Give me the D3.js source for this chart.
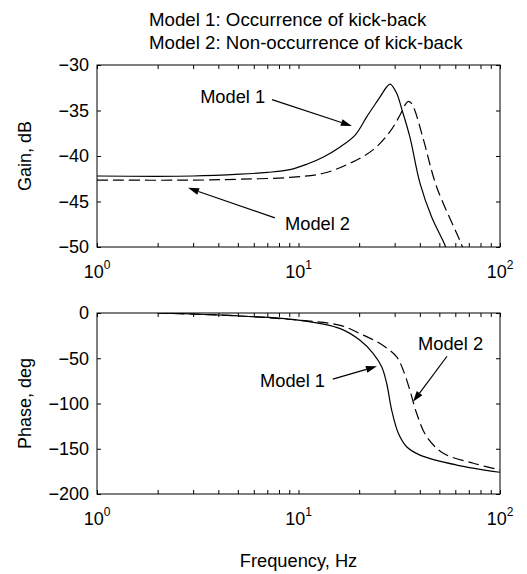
<!DOCTYPE html>
<html>
<head>
<meta charset="utf-8">
<script src="https://cdn.jsdelivr.net/npm/d3@7"></script>
<style>
  body { margin: 0; background: #fff; }
  svg { font-family: "Liberation Sans", Arial, sans-serif; }
  .axis path { display: none; }
  .axis line { stroke: #000; stroke-width: 1; }
  .axis text { font-size: 18px; fill: #000; }
</style>
</head>
<body>
<svg width="527" height="574"></svg>
<script>
// Gain data (Hz, dB)
let gain1Freq = [1, 3, 5.13, 7, 9.07, 11, 13.3, 16.1, 19.1, 21.8, 25.4, 27.2, 28.5, 30.7, 32.5, 35.7, 40.1, 45.8, 53.3, 58]
let gain1Val  = [-42.2, -42.2, -42.0, -41.8, -41.5, -40.9, -40.1, -39.0, -37.7, -35.7, -33.5, -32.5, -32.1, -33.1, -34.8, -37.9, -43.0, -46.7, -49.8, -52]
let gain2Freq = [1, 3, 5.13, 9.07, 13.3, 18.0, 23.5, 28.5, 31.9, 34.0, 35.1, 36.3, 37.8, 41.7, 48.5, 64.6, 70]
let gain2Val  = [-42.65, -42.65, -42.55, -42.35, -41.9, -40.8, -39.3, -37.3, -35.5, -34.3, -34.0, -34.2, -35.0, -38.2, -43.4, -49.8, -52]

// Phase data (Hz, deg)
let phase1Freq = [2, 5.13, 10.2, 16.1, 20.2, 23.5, 25.9, 27.4, 29.0, 31.3, 34.4, 40.1, 61, 100]
let phase1Val  = [0, -3.3, -8.1, -17.2, -30.1, -44.8, -59.6, -77.9, -107.3, -133, -147.8, -157, -168, -176]
let phase2Freq = [2, 5.13, 10.2, 16.1, 20.2, 25.4, 30.7, 33.1, 35.7, 38.6, 43.3, 52.3, 73.8, 100]
let phase2Val  = [0, -3.3, -8.1, -13.6, -22.8, -33.8, -48.5, -63.2, -85.3, -111, -136.8, -155, -166, -173.5]

// Ticks
let xMajor = [1, 10, 100]
let xMinor = [2, 3, 4, 5, 6, 7, 8, 9, 20, 30, 40, 50, 60, 70, 80, 90]
let gainTicks = [-50, -45, -40, -35, -30]
let phaseTicks = [-200, -150, -100, -50, 0]

// Title and labels
let titleLines = ["Model 1: Occurrence of kick-back", "Model 2: Non-occurrence of kick-back"]

// Annotations in data units: text position, arrow tail, arrow tip
let gainNotes = [
  {label: "Model 1", tx: 3.25, ty: -34.2, ax: 7.39, ay: -33.8, bx: 18.4, by: -36.7},
  {label: "Model 2", tx: 8.57, ty: -48.1, ax: 7.64, ay: -46.8, bx: 2.83, by: -43.5}
]
let phaseNotes = [
  {label: "Model 1", tx: 6.44, ty: -81.6, ax: 14.8, ay: -73.1, bx: 24.5, by: -58.8},
  {label: "Model 2", tx: 39.2, ty: -41.1, ax: 54.6, ay: -47.8, bx: 37, by: -98.2}
]

let svg = d3.select("svg")
let left = 97, right = 500

let xScale = d3.scaleLog().domain([1, 100]).range([left, right])

function zip(fs, vs) { return fs.map((f, i) => ({f: f, v: vs[i]})) }

function drawPanel(top, bottom, yDomain, yTicks, yLabel, series, notes, id) {
  let yScale = d3.scaleLinear().domain(yDomain).range([bottom, top])

  svg.append("clipPath").attr("id", id)
    .append("rect")
      .attr("x", left).attr("y", top)
      .attr("width", right - left).attr("height", bottom - top)

  let line = d3.line()
    .x(d => xScale(d.f))
    .y(d => yScale(d.v))
    .curve(d3.curveCatmullRom.alpha(0.5))

  series.forEach(s => {
    svg.append("path")
      .datum(s.data)
      .attr("clip-path", `url(#${id})`)
      .attr("fill", "none")
      .attr("stroke", "#000")
      .attr("stroke-width", 1.2)
      .attr("stroke-dasharray", s.dash)
      .attr("d", line)
  })

  // frame
  svg.append("rect")
    .attr("x", left).attr("y", top)
    .attr("width", right - left).attr("height", bottom - top)
    .attr("fill", "none").attr("stroke", "#000").attr("stroke-width", 1)

  // y axes
  svg.append("g").attr("class", "axis")
    .attr("transform", `translate(${left},0)`)
    .call(d3.axisLeft(yScale).tickValues(yTicks).tickSize(-4).tickPadding(8))
  svg.append("g").attr("class", "axis")
    .attr("transform", `translate(${right},0)`)
    .call(d3.axisRight(yScale).tickValues(yTicks).tickSize(-4).tickFormat(""))

  // x axes, major and minor, bottom and top
  svg.append("g").attr("class", "axis")
    .attr("transform", `translate(0,${bottom})`)
    .call(d3.axisBottom(xScale).tickValues(xMajor.concat(xMinor)).tickSize(-4).tickFormat(""))
  svg.append("g").attr("class", "axis")
    .attr("transform", `translate(0,${top})`)
    .call(d3.axisTop(xScale).tickValues(xMajor.concat(xMinor)).tickSize(-4).tickFormat(""))

  // 10^n labels
  xMajor.forEach(v => {
    let t = svg.append("text")
      .attr("x", xScale(v))
      .attr("y", bottom + 31)
      .attr("text-anchor", "middle")
      .attr("font-size", 18)
    t.append("tspan").text("10")
    t.append("tspan").attr("dy", -9).attr("font-size", 12).text(Math.round(Math.log10(v)))
  })

  // y label
  svg.append("text")
    .attr("transform", `translate(31,${(top + bottom) / 2}) rotate(-90)`)
    .attr("text-anchor", "middle")
    .attr("font-size", 18)
    .text(yLabel)

  // annotations
  notes.forEach(n => {
    svg.append("text")
      .attr("x", xScale(n.tx)).attr("y", yScale(n.ty))
      .attr("font-size", 18.3)
      .text(n.label)
    let x1 = xScale(n.ax), y1 = yScale(n.ay), x2 = xScale(n.bx), y2 = yScale(n.by)
    let ang = Math.atan2(y2 - y1, x2 - x1)
    let len = 11, w = 3.5
    let hx = x2 - len * Math.cos(ang), hy = y2 - len * Math.sin(ang)
    svg.append("line")
      .attr("x1", x1).attr("y1", y1).attr("x2", hx).attr("y2", hy)
      .attr("stroke", "#000").attr("stroke-width", 1.2)
    svg.append("path")
      .attr("d", `M${x2},${y2}L${hx - w * Math.sin(ang)},${hy + w * Math.cos(ang)}L${hx + w * Math.sin(ang)},${hy - w * Math.cos(ang)}Z`)
      .attr("fill", "#000")
  })
}

// title
svg.selectAll(".title")
  .data(titleLines)
  .enter()
  .append("text")
    .attr("class", "title")
    .attr("x", 149)
    .attr("y", (d, i) => 26 + i * 22.5)
    .attr("font-size", 18.7)
    .text(d => d)

drawPanel(65, 247, [-50, -30], gainTicks, "Gain, dB",
  [{data: zip(gain1Freq, gain1Val), dash: null}, {data: zip(gain2Freq, gain2Val), dash: "11,5"}],
  gainNotes, "clipGain")

drawPanel(313, 494, [-200, 0], phaseTicks, "Phase, deg",
  [{data: zip(phase1Freq, phase1Val), dash: null}, {data: zip(phase2Freq, phase2Val), dash: "11,5"}],
  phaseNotes, "clipPhase")

svg.append("text")
  .attr("x", (left + right) / 2)
  .attr("y", 567)
  .attr("text-anchor", "middle")
  .attr("font-size", 18.3)
  .text("Frequency, Hz")
</script>
</body>
</html>
